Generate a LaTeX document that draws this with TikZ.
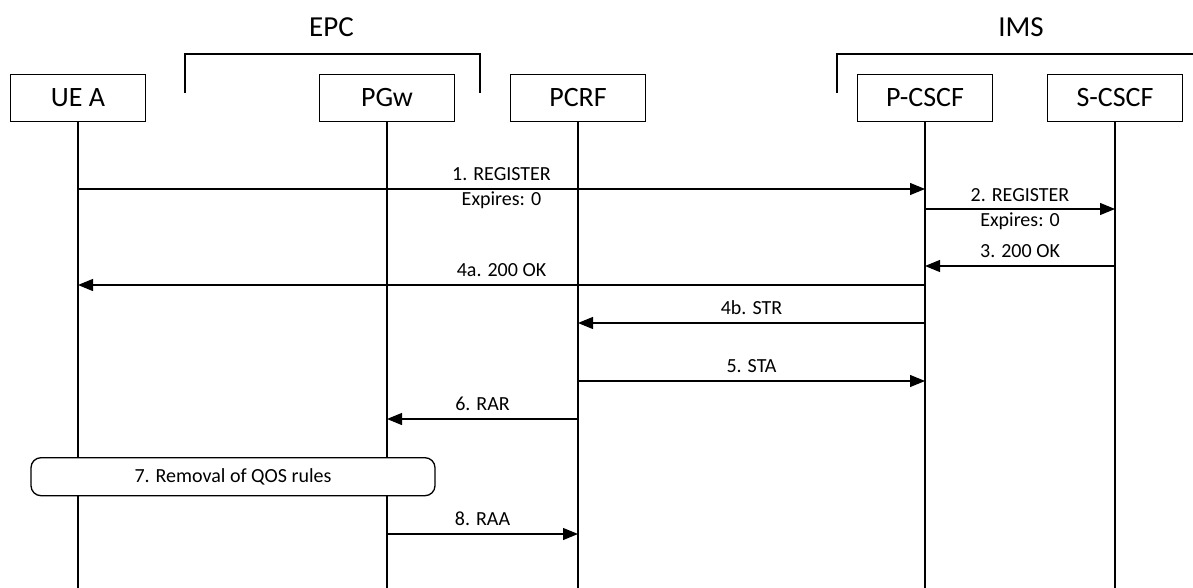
\documentclass[tikz,border=0pt]{standalone}
\usepackage{fontspec}
\setmainfont{Carlito}
\usetikzlibrary{arrows.meta}
\begin{document}
\begin{tikzpicture}[x=1pt,y=-1pt,
  entity/.style={draw, line width=1.3pt, minimum width=135pt, minimum height=47pt, inner sep=0pt, font=\fontsize{28}{30}\selectfont},
  grouplbl/.style={font=\fontsize{29}{31}\selectfont, anchor=base, inner sep=0pt},
  life/.style={line width=1.2pt},
  msg/.style={line width=1.2pt, -{Triangle[length=15pt,width=12pt]}},
  lbl/.style={font=\fontsize{20}{22}\selectfont, anchor=base, inner sep=0pt},
  bracket/.style={line width=1.3pt},
  action/.style={draw, fill=white, line width=1.3pt, rounded corners=10pt, minimum width=404pt, minimum height=38pt, inner sep=0pt, font=\fontsize{20}{22}\selectfont}
]
\useasboundingbox (0,0) rectangle (1193,588);
\coordinate (bot) at (0,588);

% group labels and brackets
\node[grouplbl] (epc) at (331.5,36.7) {EPC};
\node[grouplbl] (ims) at (1021,36.7) {IMS};
\draw[bracket] (185,93) -- (185,54) -- (480,54) -- (480,93);
\draw[bracket] (837,93) -- (837,54) -- (1193,54);

% entities
\node[entity] (ue) at (78,98) {UE A};
\node[entity] (pgw) at (387,98) {PGw};
\node[entity] (pcrf) at (578,98) {PCRF};
\node[entity] (pc) at (925,98) {P-CSCF};
\node[entity] (sc) at (1115,98) {S-CSCF};

% lifelines
\foreach \n in {ue,pgw,pcrf,pc,sc}
  \draw[life] (\n.south) -- (\n.south |- bot);

% messages
\draw[msg] (ue |- 0,189) -- (pc |- 0,189)
  node[midway, lbl, yshift=8pt] {1. REGISTER}
  node[midway, lbl, yshift=-16pt] {Expires: 0};
\draw[msg] (pc |- 0,209) -- (sc |- 0,209)
  node[midway, lbl, yshift=8pt] {2. REGISTER}
  node[midway, lbl, yshift=-17pt] {Expires: 0};
\draw[msg] (sc |- 0,266) -- (pc |- 0,266)
  node[midway, lbl, yshift=9pt] {3. 200 OK};
\draw[msg] (pc |- 0,285) -- (ue |- 0,285)
  node[midway, lbl, yshift=9pt] {4a. 200 OK};
\draw[msg] (pc |- 0,323) -- (pcrf |- 0,323)
  node[midway, lbl, yshift=9pt] {4b. STR};
\draw[msg] (pcrf |- 0,381) -- (pc |- 0,381)
  node[midway, lbl, yshift=9pt] {5. STA};
\draw[msg] (pcrf |- 0,419) -- (pgw |- 0,419)
  node[midway, lbl, yshift=9pt] {6. RAR};
\node[action] (qos) at (233,476.7) {7. Removal of QOS rules};
\draw[msg] (pgw |- 0,534) -- (pcrf |- 0,534)
  node[midway, lbl, yshift=9pt] {8. RAA};
\end{tikzpicture}
\end{document}
